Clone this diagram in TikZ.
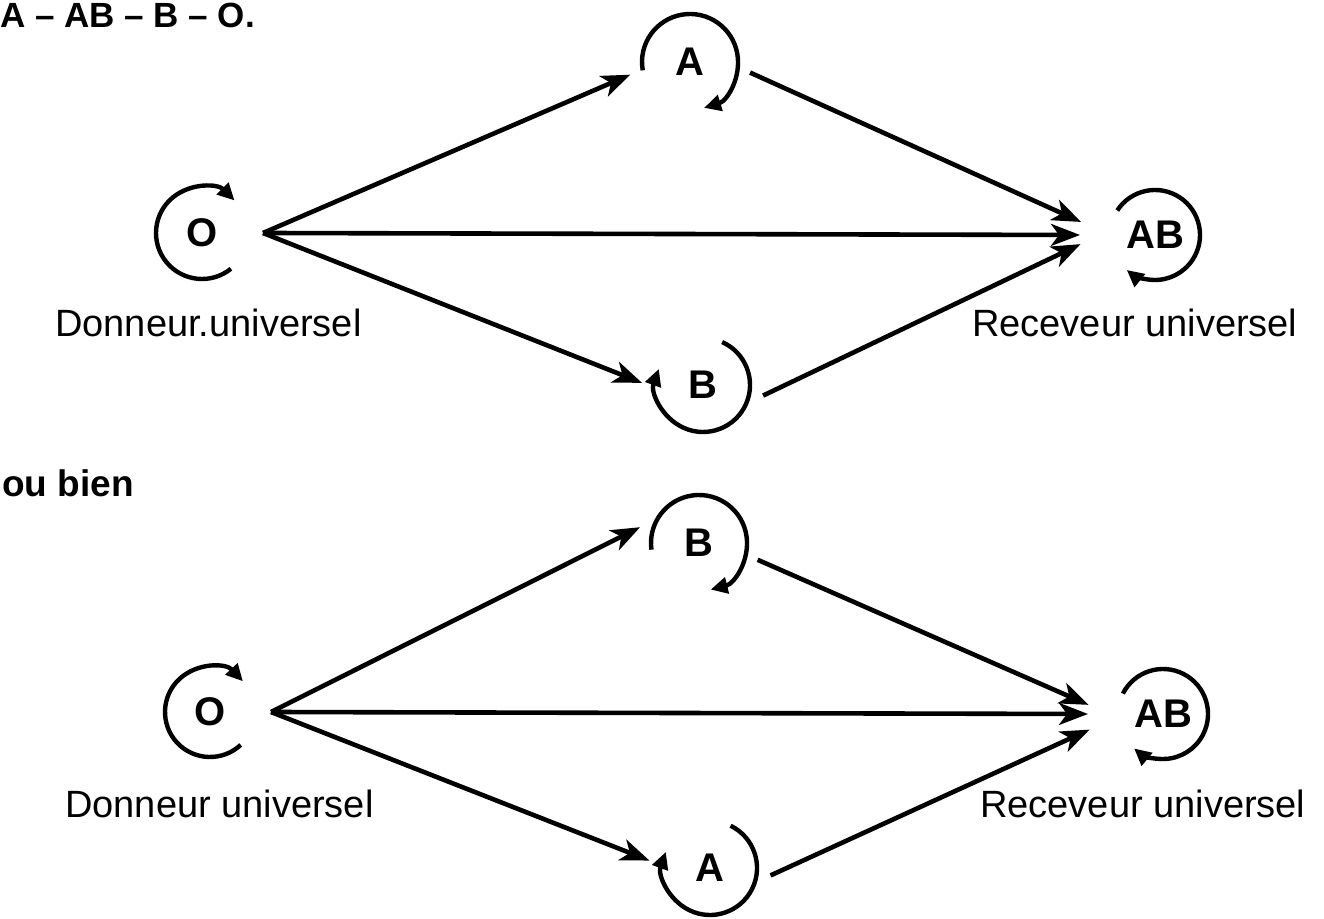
\documentclass[tikz,border=0pt]{standalone}
\usepackage{fontspec}
\setmainfont{Liberation Sans}
\usetikzlibrary{arrows.meta}
\tikzset{
  grp/.style={circle, minimum size=122pt, inner sep=0pt, outer sep=0pt,
    font=\bfseries\fontsize{40}{40}\selectfont},
  grpwide/.style={grp, minimum size=150pt},
  conn/.style={line width=4.6pt, -{Stealth[length=29pt,width=22pt,inset=8pt]}},
  loopar/.style={line width=4.4pt, -{Triangle[length=17pt,width=16pt]}},
  lbl/.style={anchor=base west, inner sep=0pt, font=\fontsize{38}{40}\selectfont},
  ttl/.style={anchor=base west, inner sep=0pt, font=\bfseries\fontsize{35}{36}\selectfont}
}
\begin{document}
\begin{tikzpicture}[x=1pt,y=1pt]
\useasboundingbox (0,0) rectangle (1324,918);
% title
\node[ttl] (title) at (0,890) {A – AB – B – O.};
\node[ttl, font=\bfseries\fontsize{37}{38}\selectfont] (oubien) at (2,421) {ou bien};

% ---------- top diagram ----------
\node[grp] (O1) at (202,685) {O};
\node[grp] (A1) at (690,856) {A};
\node[grp] (B1) at (703,533) {B};
\node[grpwide] (AB1) at (1155,683) {AB};

\draw[loopar] (O1.center) ++(-51:46) arc[start angle=-51, end angle=-315, radius=46];
\draw[loopar] (A1.center) ++(190:48) arc[start angle=190, end angle=-73, radius=48];
\draw[loopar] (B1.center) ++(66:47) arc[start angle=66, end angle=-200, radius=47];
\draw[loopar] (AB1.center) ++(147:45) arc[start angle=147, end angle=-129, radius=45];

\draw[conn] (O1.east) -- (A1.192);
\draw[conn] (O1.east) -- (AB1.180);
\draw[conn] (O1.east) -- (B1.178);
\draw[conn] (A1.-10) -- (AB1.170);
\draw[conn] (B1.-10) -- (AB1.187);

\node[lbl] (don1) at (55,581) {Donneur.universel};
\node[lbl] (rec1) at (972,581) {Receveur universel};

% ---------- bottom diagram ----------
\node[grp] (O2) at (210,206) {O};
\node[grp] (B2) at (699,375) {B};
\node[grp] (A2) at (710,50) {A};
\node[grpwide] (AB2) at (1163,204) {AB};

\draw[loopar] (O2.center) ++(-47:45) arc[start angle=-47, end angle=-317, radius=45];
\draw[loopar] (B2.center) ++(188:48) arc[start angle=188, end angle=-76, radius=48];
\draw[loopar] (A2.center) ++(64:47) arc[start angle=64, end angle=-200, radius=47];
\draw[loopar] (AB2.center) ++(153:45) arc[start angle=153, end angle=-130, radius=45];

\draw[conn] (O2.east) -- (B2.165);
\draw[conn] (O2.east) -- (AB2.180);
\draw[conn] (O2.east) -- (A2.173);
\draw[conn] (B2.-16) -- (AB2.173);
\draw[conn] (A2.-7) -- (AB2.192);

\node[lbl] (don2) at (65,101) {Donneur universel};
\node[lbl] (rec2) at (980,101) {Receveur universel};
\end{tikzpicture}
\end{document}
